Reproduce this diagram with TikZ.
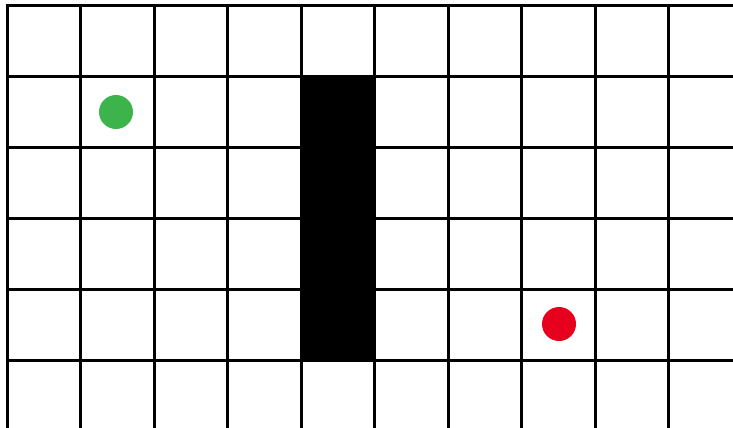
\documentclass[tikz,border=0pt]{standalone}
\usepackage{tikz}
\usetikzlibrary{calc,positioning}
\definecolor{startgreen}{RGB}{60,180,75}
\definecolor{goalred}{RGB}{230,0,30}
\tikzset{
  gridline/.style={line width=3pt,black},
  marker/.style={circle,inner sep=0pt,minimum size=34pt},
}

\begin{document}
\begin{tikzpicture}[x=1pt,y=-1pt]
        \useasboundingbox (0,0) rectangle (733,428);

        % wall
        \fill[black] (300,76) rectangle (375,360);

        % grid
        \foreach \i in {0,...,9} {
          \draw[gridline] ({7+73.55*\i},4) -- ({7+73.55*\i},428);
        }
        \foreach \j in {0,...,5} {
          \draw[gridline] (5.5,{5.5+70.9*\j}) -- (733,{5.5+70.9*\j});
        }

        \node[marker,fill=startgreen] (start) at (116,112) {};
        \node[marker,fill=goalred] (goal) at (559,324) {};
      \end{tikzpicture}
\end{document}
